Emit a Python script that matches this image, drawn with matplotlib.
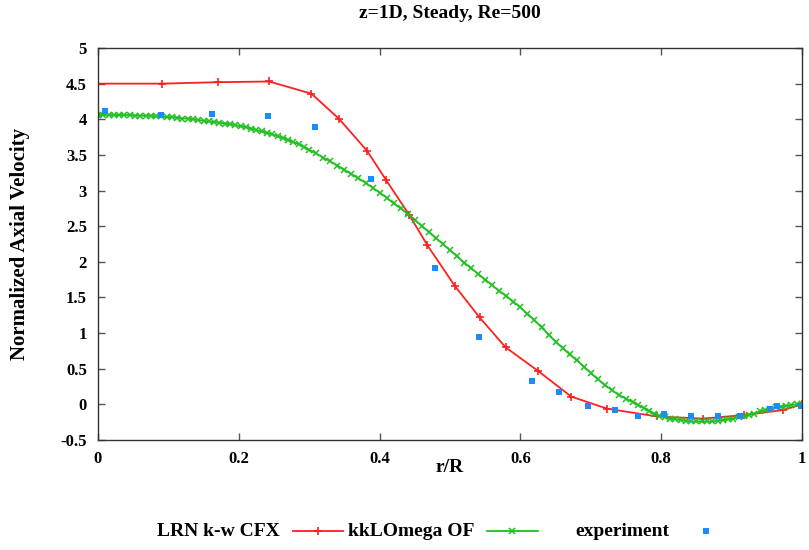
import matplotlib
matplotlib.use("Agg")
import matplotlib.pyplot as plt
from matplotlib.lines import Line2D

# ---- data ----
cfx_r = [0.000, 0.091, 0.170, 0.243, 0.303, 0.342, 0.382, 0.409, 0.442, 0.468,
         0.507, 0.542, 0.579, 0.625, 0.672, 0.723, 0.794, 0.859, 0.918, 0.973, 1.000]
cfx_v = [4.50, 4.50, 4.52, 4.53, 4.36, 4.01, 3.56, 3.15, 2.66, 2.23,
         1.66, 1.22, 0.80, 0.47, 0.11, -0.06, -0.17, -0.20, -0.15, -0.08, 0.00]

of_r = [0.0000, 0.0075, 0.0150, 0.0225, 0.0300, 0.0375, 0.0450, 0.0525, 0.0600, 0.0675,
        0.0750, 0.0825, 0.0900, 0.0975, 0.1050, 0.1125, 0.1200, 0.1275, 0.1350, 0.1425,
        0.1500, 0.1575, 0.1650, 0.1725, 0.1800, 0.1875, 0.1950, 0.2025, 0.2100, 0.2175,
        0.2250, 0.2325, 0.2400, 0.2475, 0.2550, 0.2625, 0.2700, 0.2775, 0.2850, 0.2925,
        0.3000,
        0.31, 0.32, 0.33, 0.34, 0.35, 0.36, 0.37, 0.38, 0.39, 0.40,
        0.41, 0.42, 0.43, 0.44, 0.45, 0.46, 0.47, 0.48, 0.49, 0.50,
        0.51, 0.52, 0.53, 0.54, 0.55, 0.56, 0.57, 0.58, 0.59, 0.60,
        0.61, 0.62, 0.63, 0.64, 0.65, 0.66, 0.67, 0.68, 0.69, 0.70,
        0.71, 0.72, 0.73, 0.74, 0.75,
        0.7600, 0.7675, 0.7750, 0.7825, 0.7900, 0.7975, 0.8050, 0.8125, 0.8200, 0.8275,
        0.8350, 0.8425, 0.8500, 0.8575, 0.8650, 0.8725, 0.8800, 0.8875, 0.8950, 0.9025,
        0.9100, 0.9175, 0.9250, 0.9325, 0.9400, 0.9475, 0.9550, 0.9625, 0.9700, 0.9775,
        0.9850, 0.9925, 1.0000]
of_v = [4.06, 4.06, 4.06, 4.06, 4.06, 4.06, 4.06, 4.05, 4.05, 4.05,
        4.05, 4.04, 4.04, 4.03, 4.03, 4.02, 4.01, 4.01, 4.00, 3.99,
        3.98, 3.97, 3.96, 3.95, 3.94, 3.93, 3.92, 3.90, 3.89, 3.87,
        3.85, 3.83, 3.81, 3.79, 3.76, 3.74, 3.71, 3.68, 3.65, 3.61,
        3.57,
        3.52, 3.46, 3.41, 3.35, 3.29, 3.23, 3.17, 3.11, 3.04, 2.97,
        2.90, 2.82, 2.75, 2.67, 2.59, 2.50, 2.42, 2.33, 2.25, 2.16,
        2.08, 1.99, 1.91, 1.83, 1.75, 1.67, 1.59, 1.52, 1.44, 1.36,
        1.27, 1.18, 1.08, 0.98, 0.88, 0.79, 0.70, 0.62, 0.53, 0.44,
        0.35, 0.27, 0.20, 0.13, 0.08,
        0.03, -0.01, -0.05, -0.09, -0.13, -0.16, -0.18, -0.20, -0.21, -0.22,
        -0.23, -0.24, -0.24, -0.24, -0.24, -0.24, -0.23, -0.22, -0.21, -0.20,
        -0.18, -0.17, -0.15, -0.13, -0.10, -0.08, -0.06, -0.04, -0.03, -0.02,
        -0.01, 0.00, 0.01]

exp_r = [0.010, 0.090, 0.162, 0.242, 0.308, 0.388, 0.478, 0.541, 0.617, 0.655,
         0.696, 0.734, 0.767, 0.804, 0.842, 0.881, 0.912, 0.954, 0.964, 0.999]
exp_v = [4.12, 4.06, 4.08, 4.04, 3.89, 3.16, 1.92, 0.94, 0.33, 0.17,
         -0.02, -0.08, -0.16, -0.14, -0.17, -0.17, -0.16, -0.07, -0.02, -0.02]

x_ticks = [0, 0.2, 0.4, 0.6, 0.8, 1]
x_tick_labels = ["0", "0.2", "0.4", "0.6", "0.8", "1"]
y_ticks = [-0.5, 0, 0.5, 1, 1.5, 2, 2.5, 3, 3.5, 4, 4.5, 5]
y_tick_labels = ["-0.5", "0", "0.5", "1", "1.5", "2", "2.5", "3", "3.5", "4", "4.5", "5"]

title = "z=1D, Steady, Re=500"
xlabel = "r/R"
ylabel = "Normalized Axial Velocity"
labels = ["LRN k-w CFX", "kkLOmega OF", "experiment"]

RED = "#ff1f1f"
GREEN = "#1fc01f"
BLUE = "#1a8cff"
FONT = "Liberation Serif"

fig = plt.figure(figsize=(8.09, 5.5), dpi=100)
ax = fig.add_axes([98 / 809, 110 / 550, 704 / 809, 392 / 550])

ax.plot(cfx_r, cfx_v, color=RED, lw=1.3, marker="+", ms=5.5, mew=1.2)
ax.plot(of_r, of_v, color=GREEN, lw=1.3, marker="x", ms=4, mew=1.1)
ax.plot(exp_r, exp_v, ls="none", color=BLUE, marker="s", ms=5, mew=0)

ax.set_xlim(0, 1)
ax.set_ylim(-0.5, 5)
ax.set_xticks(x_ticks)
ax.set_xticklabels(x_tick_labels)
ax.set_yticks(y_ticks)
ax.set_yticklabels(y_tick_labels)
ax.tick_params(direction="in", length=5, width=1, top=True, right=True,
               color="#555555", pad=8, labelsize=12)
for lab in ax.get_xticklabels() + ax.get_yticklabels():
    lab.set_fontfamily(FONT)
    lab.set_fontweight("bold")
for s in ax.spines.values():
    s.set_color("#333333")
    s.set_linewidth(1)

fig.text(450 / 809, 1 - 14 / 550, title, ha="center", va="center",
         fontfamily=FONT, fontweight="bold", fontsize=14)
fig.text(450 / 809, 1 - 467 / 550, xlabel, ha="center", va="center",
         fontfamily=FONT, fontweight="bold", fontsize=14)
fig.text(20 / 809, 1 - 244 / 550, ylabel, ha="center", va="center", rotation=90,
         fontfamily=FONT, fontweight="bold", fontsize=15)

# legend (gnuplot-style: text then sample)
ly = 1 - 531 / 550
fs = 14
fig.text(280 / 809, ly, labels[0], ha="right", va="center",
         fontfamily=FONT, fontweight="bold", fontsize=fs)
fig.add_artist(Line2D([293 / 809, 343 / 809], [ly, ly], transform=fig.transFigure,
                      color=RED, lw=1.3))
fig.add_artist(Line2D([318 / 809], [ly], transform=fig.transFigure,
                      color=RED, marker="+", ms=5.5, mew=1.2))
fig.text(474 / 809, ly, labels[1], ha="right", va="center",
         fontfamily=FONT, fontweight="bold", fontsize=fs)
fig.add_artist(Line2D([487 / 809, 538 / 809], [ly, ly], transform=fig.transFigure,
                      color=GREEN, lw=1.3))
fig.add_artist(Line2D([512 / 809], [ly], transform=fig.transFigure,
                      color=GREEN, marker="x", ms=4, mew=1.1))
fig.text(669 / 809, ly, labels[2], ha="right", va="center",
         fontfamily=FONT, fontweight="bold", fontsize=fs)
fig.add_artist(Line2D([706 / 809], [ly], transform=fig.transFigure,
                      color=BLUE, marker="s", ms=5, mew=0))

fig.savefig("out.png", dpi=100)
